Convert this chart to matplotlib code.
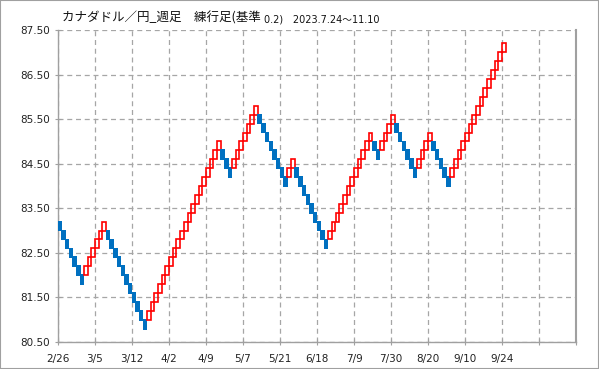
import matplotlib
matplotlib.use('Agg')
from matplotlib import pyplot
import matplotlib.ticker as ticker
from matplotlib.patches import Rectangle
import numpy

pyplot.rcParams['font.family'] = ['Noto Sans CJK JP', 'DejaVu Sans']

# 練行足のレンガ (下端の値, 方向) 基準 0.2
brick_low = [
    83.0, 82.8, 82.6, 82.4, 82.2, 82.0, 81.8,
    82.0, 82.2, 82.4, 82.6, 82.8, 83.0,
    82.8, 82.6, 82.4, 82.2, 82.0, 81.8, 81.6, 81.4, 81.2, 81.0, 80.8,
    81.0, 81.2, 81.4, 81.6, 81.8, 82.0, 82.2, 82.4, 82.6, 82.8,
    83.0, 83.2, 83.4, 83.6, 83.8, 84.0, 84.2, 84.4, 84.6, 84.8,
    84.6, 84.4, 84.2,
    84.4, 84.6, 84.8, 85.0, 85.2, 85.4, 85.6,
    85.4, 85.2, 85.0, 84.8, 84.6, 84.4, 84.2, 84.0,
    84.2, 84.4,
    84.2, 84.0, 83.8, 83.6, 83.4, 83.2, 83.0, 82.8, 82.6,
    82.8, 83.0, 83.2, 83.4, 83.6, 83.8, 84.0, 84.2, 84.4, 84.6, 84.8, 85.0,
    84.8, 84.6,
    84.8, 85.0, 85.2, 85.4,
    85.2, 85.0, 84.8, 84.6, 84.4, 84.2,
    84.4, 84.6, 84.8, 85.0,
    84.8, 84.6, 84.4, 84.2, 84.0,
    84.2, 84.4, 84.6, 84.8, 85.0, 85.2, 85.4, 85.6, 85.8, 86.0,
    86.2, 86.4, 86.6, 86.8, 87.0,
]
brick_up = (
    [False] * 7 + [True] * 6 + [False] * 11 + [True] * 20 + [False] * 3 +
    [True] * 7 + [False] * 8 + [True] * 2 + [False] * 9 + [True] * 12 +
    [False] * 2 + [True] * 4 + [False] * 6 + [True] * 4 + [False] * 5 +
    [True] * 15
)
brick = 0.2
x_labels = ['2/26', '3/5', '3/12', '4/2', '4/9', '5/7', '5/21', '6/18',
            '7/9', '7/30', '8/20', '9/10', '9/24']
n_cat = 140

fig = pyplot.figure(figsize=(5.99, 3.69), dpi=100)
ax = fig.add_axes([58 / 599, 27 / 369, 518 / 599, 312 / 369])

for i, (low, up) in enumerate(zip(brick_low, brick_up)):
    if up:
        ax.add_patch(Rectangle((i, low), 1, brick, facecolor='none',
                               edgecolor='#ff0000', linewidth=1.2, zorder=3))
    else:
        ax.add_patch(Rectangle((i - 0.1, low - 0.02), 1.2, brick + 0.04,
                               facecolor='#0070c0', edgecolor='none', zorder=3))

ax.set_xlim(0, n_cat)
ax.set_ylim(80.5, 87.5)

ax.set_yticks(numpy.arange(80.5, 87.6, 1))
ax.yaxis.set_major_formatter(ticker.FormatStrFormatter('%.2f'))
ax.set_xticks(range(0, n_cat + 1, 10))
ax.set_xticklabels(x_labels + [''] * (n_cat // 10 + 1 - len(x_labels)))

ax.grid(color='#a6a6a6', linestyle=(0, (4, 3)), linewidth=0.9)
ax.set_axisbelow(True)

for s in ['left', 'bottom', 'right']:
    ax.spines[s].set_color('#a0a0a0')
    ax.spines[s].set_linewidth(1)
ax.spines['right'].set_linewidth(1.5)
ax.spines['top'].set_visible(False)

ax.tick_params(axis='both', direction='inout', length=5, color='#a0a0a0',
               labelsize=7.5, labelcolor='#222222')
ax.tick_params(axis='y', pad=3)
ax.tick_params(axis='x', pad=6)
for lab in ax.get_xticklabels() + ax.get_yticklabels():
    lab.set_family('DejaVu Sans')

# タイトル (日本語部分と数字部分で大きさが違う)
base_y = 1 - 22 / 369
t1 = fig.text(62 / 599, base_y, 'カナダドル／円_週足　練行足(基準',
              fontsize=9, color='#111111', va='baseline')
fig.canvas.draw()
bb = t1.get_window_extent()
fig.text(bb.x1 / fig.bbox.width + 3 / 599, base_y, '0.2)　2023.7.24～11.10',
         fontsize=7, color='#111111', va='baseline',
         family=['DejaVu Sans', 'Noto Sans CJK JP'])

fig.patches.append(Rectangle((0, 0), 1, 1, transform=fig.transFigure,
                             facecolor='none', edgecolor='#a0a0a0',
                             linewidth=1.5))

fig.savefig('out.png')
